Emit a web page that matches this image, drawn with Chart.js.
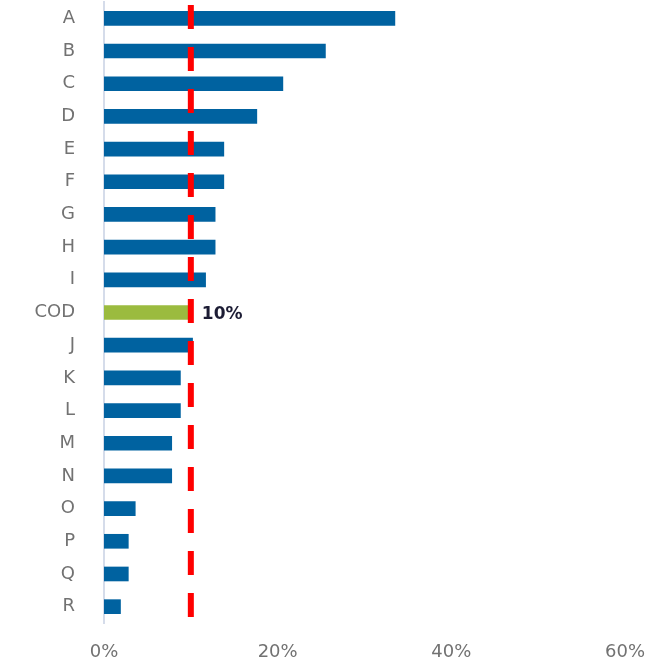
<!DOCTYPE html>
<html>
<head>
<meta charset="utf-8">
<script src="https://cdn.jsdelivr.net/npm/chart.js@4/dist/chart.umd.min.js"></script>
<style>
  html, body { margin: 0; padding: 0; background: #ffffff; }
  #wrap { width: 664px; height: 666px; }
</style>
</head>
<body>
<div id="wrap"><canvas id="chart" width="664" height="666"></canvas></div>
<script>
// Share of each entity (%), sorted descending, with COD highlighted
const categories = ['A','B','C','D','E','F','G','H','I','COD','J','K','L','M','N','O','P','Q','R'];
const shares = [33.5, 25.5, 20.6, 17.6, 13.8, 13.8, 12.8, 12.8, 11.7, 10, 10.2, 8.8, 8.8, 7.8, 7.8, 3.6, 2.8, 2.8, 1.9];
const highlightCategory = 'COD';
const highlightLabel = '10%';
const referenceValue = 10; // dashed reference line at the COD level
const xTicks = [0, 20, 40, 60];

const BLUE = '#0062a0';
const GREEN = '#9bbb3f';
const RED = '#ff0000';
const LABEL_FONT = '"DejaVu Sans", sans-serif';

const barColors = categories.map(c => c === highlightCategory ? GREEN : BLUE);

// Vertical dashed reference line drawn at the x scale position of referenceValue
const referenceLine = {
  id: 'referenceLine',
  afterDatasetsDraw(chart) {
    const { ctx, chartArea, scales } = chart;
    const x = scales.x.getPixelForValue(referenceValue);
    ctx.save();
    ctx.strokeStyle = RED;
    ctx.lineWidth = 6;
    ctx.setLineDash([24, 18]);
    ctx.beginPath();
    ctx.moveTo(x, chartArea.top + 3);
    ctx.lineTo(x, chartArea.bottom - 5);
    ctx.stroke();
    ctx.restore();
  }
};

// Value label next to the highlighted bar
const highlightValueLabel = {
  id: 'highlightValueLabel',
  afterDatasetsDraw(chart) {
    const { ctx, scales } = chart;
    const i = categories.indexOf(highlightCategory);
    const x = scales.x.getPixelForValue(shares[i]);
    const y = scales.y.getPixelForValue(i);
    ctx.save();
    ctx.font = 'bold 17px ' + LABEL_FONT;
    ctx.fillStyle = '#1c1c34';
    ctx.textAlign = 'left';
    ctx.textBaseline = 'middle';
    ctx.fillText(highlightLabel, x + 11, y + 2);
    ctx.restore();
  }
};

new Chart(document.getElementById('chart'), {
  type: 'bar',
  data: {
    labels: categories,
    datasets: [{
      data: shares,
      backgroundColor: barColors,
      borderWidth: 0,
      barThickness: 14
    }]
  },
  options: {
    indexAxis: 'y',
    responsive: false,
    animation: false,
    devicePixelRatio: 1,
    layout: { padding: { left: 0, right: 30, top: 2, bottom: 0 } },
    plugins: {
      legend: { display: false },
      tooltip: { enabled: false }
    },
    scales: {
      x: {
        min: 0,
        max: 60,
        afterBuildTicks(scale) { scale.ticks = xTicks.map(v => ({ value: v })); },
        grid: { display: false, drawTicks: false },
        border: { display: false },
        ticks: {
          padding: 19,
          color: '#727272',
          font: { family: LABEL_FONT, size: 18 },
          callback: v => v + '%'
        },
        afterFit(scale) { scale.height = 43; }
      },
      y: {
        grid: { display: false, drawTicks: false },
        border: { display: true, color: '#d5dcea', width: 2 },
        ticks: {
          padding: 29,
          color: '#727272',
          font: { family: LABEL_FONT, size: 18 }
        },
        afterFit(scale) {
          scale.width = 104;
          scale.paddingTop = 0;
          scale.paddingBottom = 0;
        }
      }
    }
  },
  plugins: [referenceLine, highlightValueLabel]
});
</script>
</body>
</html>
